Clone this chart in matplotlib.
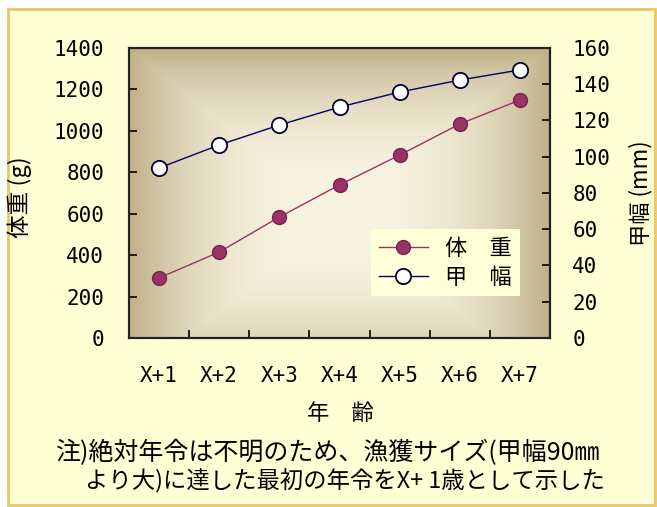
import numpy as np
import matplotlib
matplotlib.use('Agg')
import matplotlib.pyplot as plt
from matplotlib.patches import Rectangle

plt.rcParams['font.family'] = ['Noto Sans CJK JP', 'DejaVu Sans']

ages = ['X+1', 'X+2', 'X+3', 'X+4', 'X+5', 'X+6', 'X+7']
weight = [290, 415, 584, 739, 883, 1033, 1149]       # 体重 (g)
width = [93.8, 106.5, 117.5, 127.4, 135.7, 142.3, 147.9]  # 甲幅 (mm)
left_ticks = [0, 200, 400, 600, 800, 1000, 1200, 1400]
right_ticks = [0, 20, 40, 60, 80, 100, 120, 140, 160]

W, H = 657, 507
fig = plt.figure(figsize=(W / 100, H / 100), dpi=100)
fig.patch.set_facecolor('white')

# outer frame
fig.patches.append(Rectangle((8 / W, 2 / H), 647 / W, 496 / H, transform=fig.transFigure,
                             facecolor='#FFFFD6', edgecolor='#E8C866', lw=2, zorder=-5))

ax = fig.add_axes([129 / W, 1 - 338 / H, 421 / W, 290 / H])
ax.set_zorder(1)
x = np.arange(1, len(ages) + 1)

# gradient plot area
gx, gy = np.meshgrid(np.linspace(0, 1, 300), np.linspace(0, 1, 300))
d = np.maximum(np.abs(gx - 0.5) / 0.5, np.abs(gy - 0.42) / 0.58)
t = np.clip(d, 0, 1) ** 2.5
c_in = np.array([248, 244, 226]) / 255
c_out = np.array([192, 176, 136]) / 255
img = c_in[None, None, :] * (1 - t[..., None]) + c_out[None, None, :] * t[..., None]
ax.imshow(img, extent=[0, 1, 0, 1], transform=ax.transAxes, aspect='auto',
          origin='lower', zorder=0)

l1, = ax.plot(x, weight, color='#993366', lw=1, marker='o', ms=10,
              mfc='#993366', mec='#7a2050', zorder=3)
ax.set_xlim(0.5, 7.5)
ax.set_ylim(0, 1400)
ax.set_yticks(left_ticks)
ax.set_xticks(x)
ax.set_xticklabels(ages, family='DejaVu Sans Mono')
ax.set_xticks(np.arange(1.5, 7.5, 1), minor=True)
ax.tick_params(axis='x', which='major', length=0, pad=20, labelsize=15)
ax.tick_params(axis='x', which='minor', direction='in', length=6, width=1.2)
ax.tick_params(axis='y', direction='in', length=6, width=1.2, pad=18, labelsize=15)
for lb in ax.get_yticklabels():
    lb.set_family('DejaVu Sans Mono')
for s in ax.spines.values():
    s.set_linewidth(1.5)
    s.set_color('#222222')

ax2 = ax.twinx()
l2, = ax2.plot(x, width, color='#000066', lw=1, marker='o', ms=11,
               mfc='white', mec='#000033', mew=1.3, zorder=3)
ax2.set_ylim(0, 160)
ax2.set_yticks(right_ticks)
ax2.tick_params(axis='y', direction='in', length=6, width=1.2, pad=16, labelsize=15)
for lb in ax2.get_yticklabels():
    lb.set_family('DejaVu Sans Mono')
for s in ax2.spines.values():
    s.set_linewidth(1.5)
    s.set_color('#222222')

leg = ax2.legend([l1, l2], ['体　重', '甲　幅'], loc='lower right',
                 bbox_to_anchor=(0.955, 0.105), fontsize=16, frameon=True,
                 fancybox=False, framealpha=1, facecolor='#FFFFD8', edgecolor='none',
                 handlelength=2.2, labelspacing=0.25, borderpad=0.35)

fig.text(20 / W, 1 - 197 / H, '体重 (g)', rotation=90, ha='center', va='center', fontsize=17)
fig.text(641 / W, 1 - 193 / H, '甲幅 (mm)', rotation=90, ha='center', va='center', fontsize=16)
fig.text(340 / W, 1 - 413 / H, '年　齢', ha='center', va='center', fontsize=16)
fig.text(55 / W, 1 - 453 / H, '注)絶対年令は不明のため、漁獲サイズ(甲幅90㎜',
         ha='left', va='center', fontsize=18)
fig.text(85 / W, 1 - 481 / H, 'より大)に達した最初の年令をX+ 1歳として示した',
         ha='left', va='center', fontsize=16.8)

fig.savefig('out.png', dpi=100)
